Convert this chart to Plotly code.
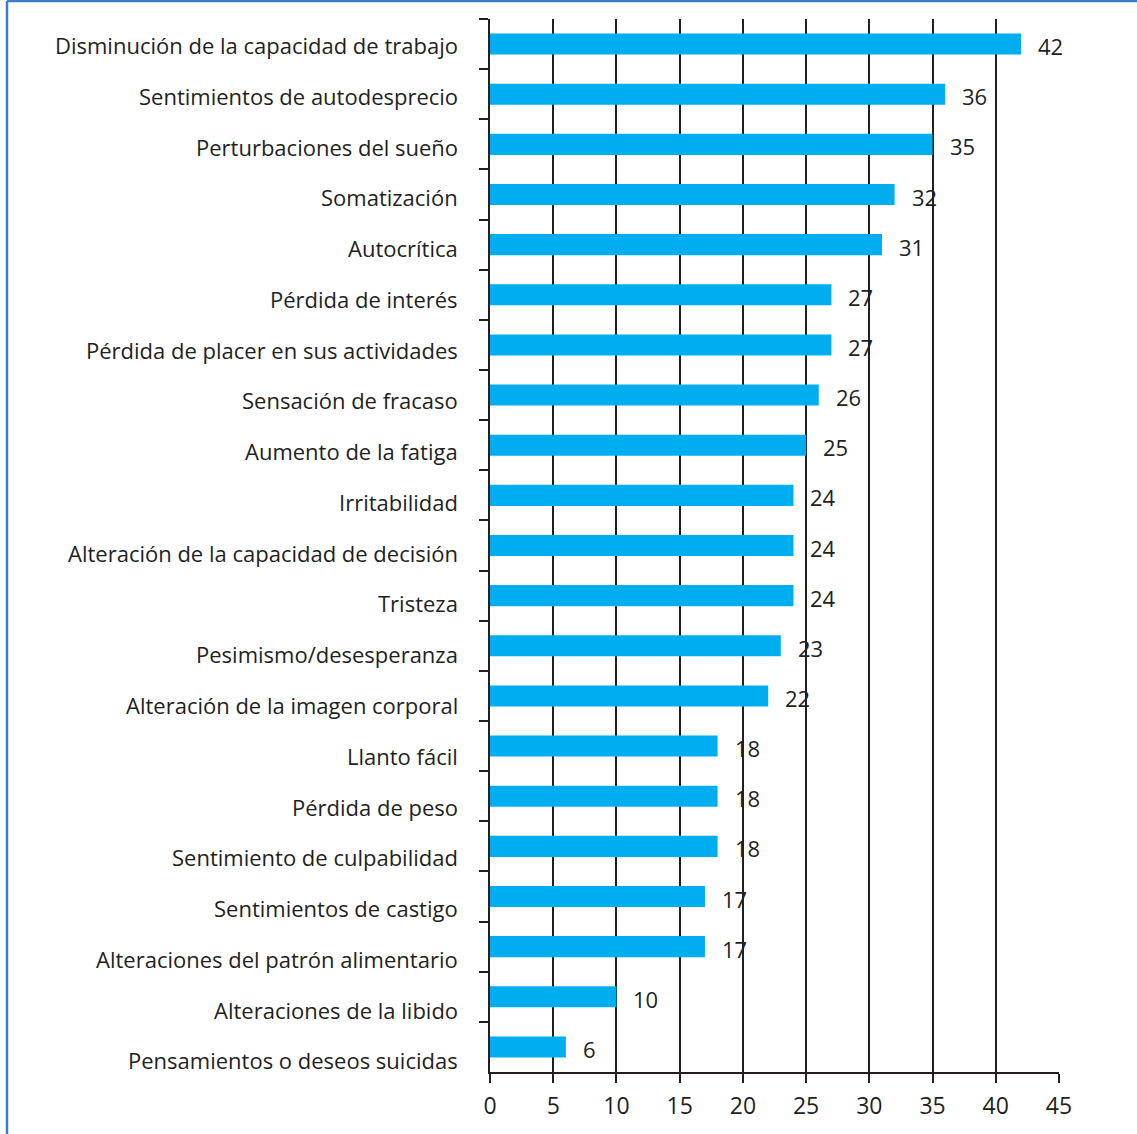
import plotly.graph_objects as go

categories = [
    "Disminución de la capacidad de trabajo",
    "Sentimientos de autodesprecio",
    "Perturbaciones del sueño",
    "Somatización",
    "Autocrítica",
    "Pérdida de interés",
    "Pérdida de placer en sus actividades",
    "Sensación de fracaso",
    "Aumento de la fatiga",
    "Irritabilidad",
    "Alteración de la capacidad de decisión",
    "Tristeza",
    "Pesimismo/desesperanza",
    "Alteración de la imagen corporal",
    "Llanto fácil",
    "Pérdida de peso",
    "Sentimiento de culpabilidad",
    "Sentimientos de castigo",
    "Alteraciones del patrón alimentario",
    "Alteraciones de la libido",
    "Pensamientos o deseos suicidas",
]
values = [42, 36, 35, 32, 31, 27, 27, 26, 25, 24, 24, 24, 23, 22, 18, 18, 18, 17, 17, 10, 6]
x_ticks = [0, 5, 10, 15, 20, 25, 30, 35, 40, 45]

W, H = 1137, 1134
L, R, T, B = 490, 78, 19, 62
FONT = "Open Sans"
INK = "#231f20"
BAR = "#00aeef"
FRAME = "#3d7cc6"

fig = go.Figure(
    go.Bar(
        x=values,
        y=categories,
        orientation="h",
        marker=dict(color=BAR, line=dict(width=0)),
        hoverinfo="skip",
    )
)

# value labels to the right of each bar
for cat, v in zip(categories, values):
    fig.add_annotation(
        x=v, y=cat, text=str(v), showarrow=False,
        xanchor="left", yanchor="middle", xshift=15, yshift=-2,
        font=dict(family=FONT, size=22, color=INK),
    )

# category names, right-aligned left of the axis; the text column is set on a
# slightly looser line pitch than the bars, so it drifts down row by row
for i, cat in enumerate(categories):
    fig.add_annotation(
        xref="paper", x=0, y=cat, text=cat, showarrow=False,
        xanchor="right", yanchor="middle", xshift=-30, yshift=-(1 + 0.62 * i),
        font=dict(family=FONT, size=22, color=INK),
    )

# blue frame along the top and left edges of the page
pw = W - L - R
ph = H - T - B
fx = (7 - L) / pw
fy = (H - B - 1) / ph
fig.add_shape(type="line", xref="paper", yref="paper", x0=fx, x1=(W + 5 - L) / pw,
              y0=fy, y1=fy, line=dict(color=FRAME, width=2.5))
fig.add_shape(type="line", xref="paper", yref="paper", x0=fx, x1=fx,
              y0=fy, y1=(-B - 5) / ph, line=dict(color=FRAME, width=2.5))

fig.update_layout(
    width=W, height=H,
    margin=dict(l=L, r=R, t=T, b=B),
    plot_bgcolor="white", paper_bgcolor="white",
    bargap=0.58,
    showlegend=False,
    font=dict(family=FONT, color=INK),
    xaxis=dict(
        range=[0, 45], tickvals=x_ticks, ticktext=[str(t) for t in x_ticks],
        showgrid=True, gridcolor=INK, gridwidth=1.5,
        showline=True, linecolor=INK, linewidth=1.5,
        ticks="outside", ticklen=9, tickwidth=1.5, tickcolor=INK,
        tickfont=dict(family=FONT, size=23, color=INK),
        ticklabelstandoff=4,
        zeroline=False, fixedrange=True,
    ),
    yaxis=dict(
        autorange="reversed",
        showgrid=False,
        showline=True, linecolor=INK, linewidth=1.5,
        ticks="outside", ticklen=9, tickwidth=1.5, tickcolor=INK,
        tickson="boundaries",
        showticklabels=False,
        fixedrange=True,
    ),
)

fig.write_html("out.html")
